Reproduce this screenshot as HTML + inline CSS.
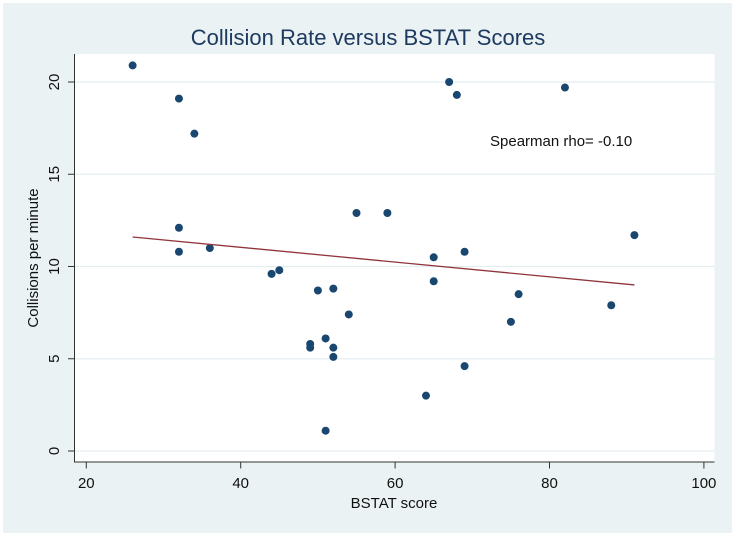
<!DOCTYPE html>
<html><head><meta charset="utf-8"><style>
body{margin:0;background:#fff;}
svg{display:block;font-family:"Liberation Sans",Arial,sans-serif;}
</style></head><body>
<svg id="chart" width="737" height="537">
<rect x="3" y="3" width="729" height="530" fill="#eaf2f3"/>
<rect x="74.5" y="54" width="640" height="408" fill="#fff"/>
<text x="368" y="45" text-anchor="middle" font-size="22" fill="#1e3a60">Collision Rate versus BSTAT Scores</text>
<g id="grid"></g>
<g id="axes"></g>
<g id="marks"></g>
<text x="490" y="146" font-size="15" fill="#111">Spearman rho= -0.10</text>
<text x="394" y="508" text-anchor="middle" font-size="15" fill="#111">BSTAT score</text>
<text transform="translate(38,258) rotate(-90)" text-anchor="middle" font-size="15" fill="#111">Collisions per minute</text>
</svg>
<script>
const bstat = [26,32,34,32,32,36,44,45,50,52,49,49,51,52,52,54,51,55,59,64,65,65,67,68,69,69,75,76,82,88,91];
const collisions = [20.9,19.1,17.2,12.1,10.8,11.0,9.6,9.8,8.7,8.8,5.8,5.6,6.1,5.6,5.1,7.4,1.1,12.9,12.9,3.0,10.5,9.2,20.0,19.3,10.8,4.6,7.0,8.5,19.7,7.9,11.7];
const xTicks = [20,40,60,80,100];
const yTicks = [0,5,10,15,20];
const fitX = [26,91];
const fitY = [11.6,9.0];
const NS="http://www.w3.org/2000/svg";
const xs=v=>86.3+(v-20)*7.72;
const ys=v=>451-v*18.45;
function mk(tag,attrs,parent){const e=document.createElementNS(NS,tag);for(const k in attrs)e.setAttribute(k,attrs[k]);document.getElementById(parent).appendChild(e);return e;}
yTicks.forEach(t=>{
  const g=mk('line',{x1:74.5,x2:714.5,y1:ys(t),y2:ys(t),stroke:'#e4eef0','stroke-width':1.2},'grid');
  
  
  const tk=mk('line',{x1:68,x2:74.5,y1:ys(t),y2:ys(t),stroke:'#333'},'axes');
  
  
  const lb=mk('text',{transform:`translate(${59},${ys(t)}) rotate(-90)`,'text-anchor':'middle','font-size':15,fill:'#111'},'axes');
  lb.textContent=t;
  
  
});
xTicks.forEach(t=>{
  const tk=mk('line',{x1:xs(t),x2:xs(t),y1:462,y2:468.5,stroke:'#333'},'axes');
  
  
  const lb=mk('text',{x:xs(t),y:488,'text-anchor':'middle','font-size':15,fill:'#111'},'axes');
  lb.textContent=t;
  
  
});
const ax=mk('path',{d:'M74.5 54 V462 H714.5',fill:'none',stroke:'#333','stroke-width':1},'axes');


bstat.forEach((v,i)=>{
  const c=mk('circle',{cx:xs(v),cy:ys(collisions[i]),r:4,fill:'#1a476f'},'marks');
  
  
});
const fl=mk('line',{x1:xs(fitX[0]),y1:ys(fitY[0]),x2:xs(fitX[1]),y2:ys(fitY[1]),stroke:'#90353b','stroke-width':1.3},'marks');


</script>
</body></html>
